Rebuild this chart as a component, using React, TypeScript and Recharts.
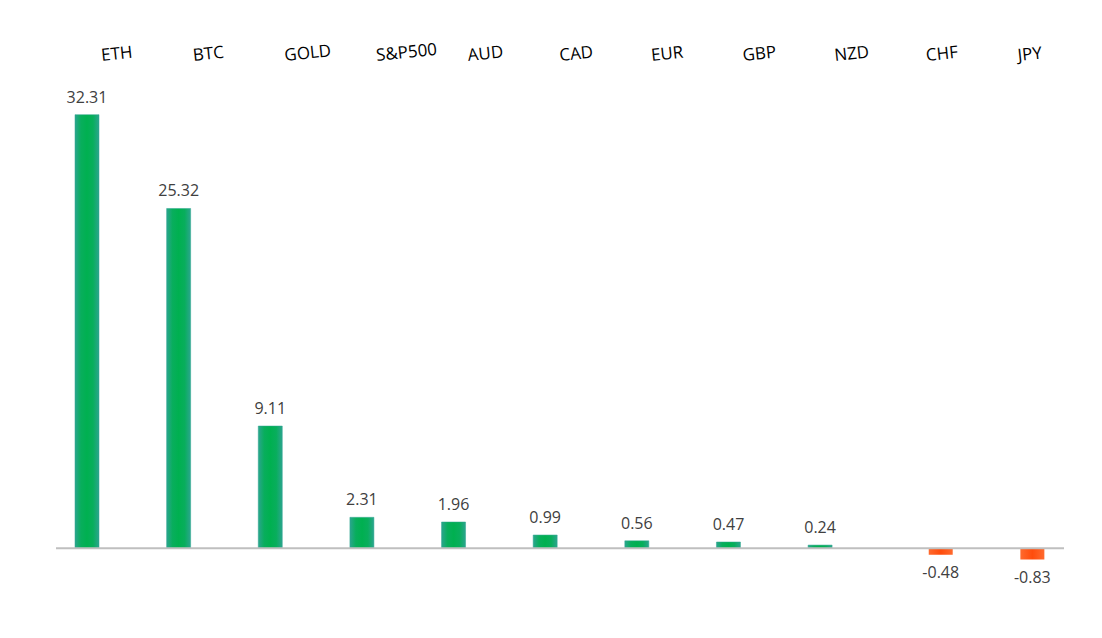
import React from 'react'
import { BarChart, Bar, XAxis, YAxis, LabelList, ReferenceLine } from 'recharts'

const categories = ['ETH', 'BTC', 'GOLD', 'S&P500', 'AUD', 'CAD', 'EUR', 'GBP', 'NZD', 'CHF', 'JPY']
const gains = [32.31, 25.32, 9.11, 2.31, 1.96, 0.99, 0.56, 0.47, 0.24, null, null]
const losses = [null, null, null, null, null, null, null, null, null, -0.48, -0.83]

const chartData = categories.map((name, i) => ({ name, gain: gains[i], loss: losses[i] }))

const labelFont = '"Open Sans", "Liberation Sans", sans-serif'

function TopTick({ x, y, payload }: any) {
  // labels start at the category centre and tilt up a little
  const ty = y - 23
  return (
    <g transform={`translate(${x},${ty}) rotate(-6)`}>
      <text x={0} y={0} textAnchor="start" fill="#000" fontSize={17} fontFamily={labelFont}>
        {payload.value}
      </text>
    </g>
  )
}

const fmt = (v: any) => (v === null || v === undefined ? '' : Number(v).toFixed(2))

export default function App() {
  return (
    <div style={{ position: 'absolute', left: 0, top: 0, width: 1102, height: 638, background: '#fff' }}>
      <BarChart
        width={1102}
        height={638}
        data={chartData}
        margin={{ top: 32, right: 38, bottom: 36, left: 56 }}
        barSize={24}
        barGap={5}
      >
        <defs>
          <linearGradient id="gainFill" x1="0" y1="0" x2="1" y2="0">
            <stop offset="0%" stopColor="#2ba58e" />
            <stop offset="25%" stopColor="#08ae5c" />
            <stop offset="50%" stopColor="#00b050" />
            <stop offset="75%" stopColor="#08ae5c" />
            <stop offset="100%" stopColor="#2ba58e" />
          </linearGradient>
          <linearGradient id="lossFill" x1="0" y1="0" x2="1" y2="0">
            <stop offset="0%" stopColor="#ff6a2e" />
            <stop offset="50%" stopColor="#ff4c0c" />
            <stop offset="100%" stopColor="#ff6a2e" />
          </linearGradient>
        </defs>
        <XAxis
          dataKey="name"
          orientation="top"
          height={60}
          axisLine={false}
          tickLine={false}
          interval={0}
          tick={(p: any) => <TopTick {...p} />}
        />
        <YAxis hide domain={[-4, 34]} allowDataOverflow />
        <ReferenceLine y={0} stroke="#bfbfbf" strokeWidth={2} />
        <Bar dataKey="gain" fill="url(#gainFill)" stroke="#2ba58e" strokeOpacity={0.5} isAnimationActive={false}>
          <LabelList dataKey="gain" position="top" offset={12} formatter={fmt} fill="#404040" fontSize={16} fontFamily={labelFont} />
        </Bar>
        <Bar dataKey="loss" fill="url(#lossFill)" isAnimationActive={false}>
          <LabelList dataKey="loss" position="top" offset={12} formatter={fmt} fill="#404040" fontSize={16} fontFamily={labelFont} />
        </Bar>
      </BarChart>
    </div>
  )
}
